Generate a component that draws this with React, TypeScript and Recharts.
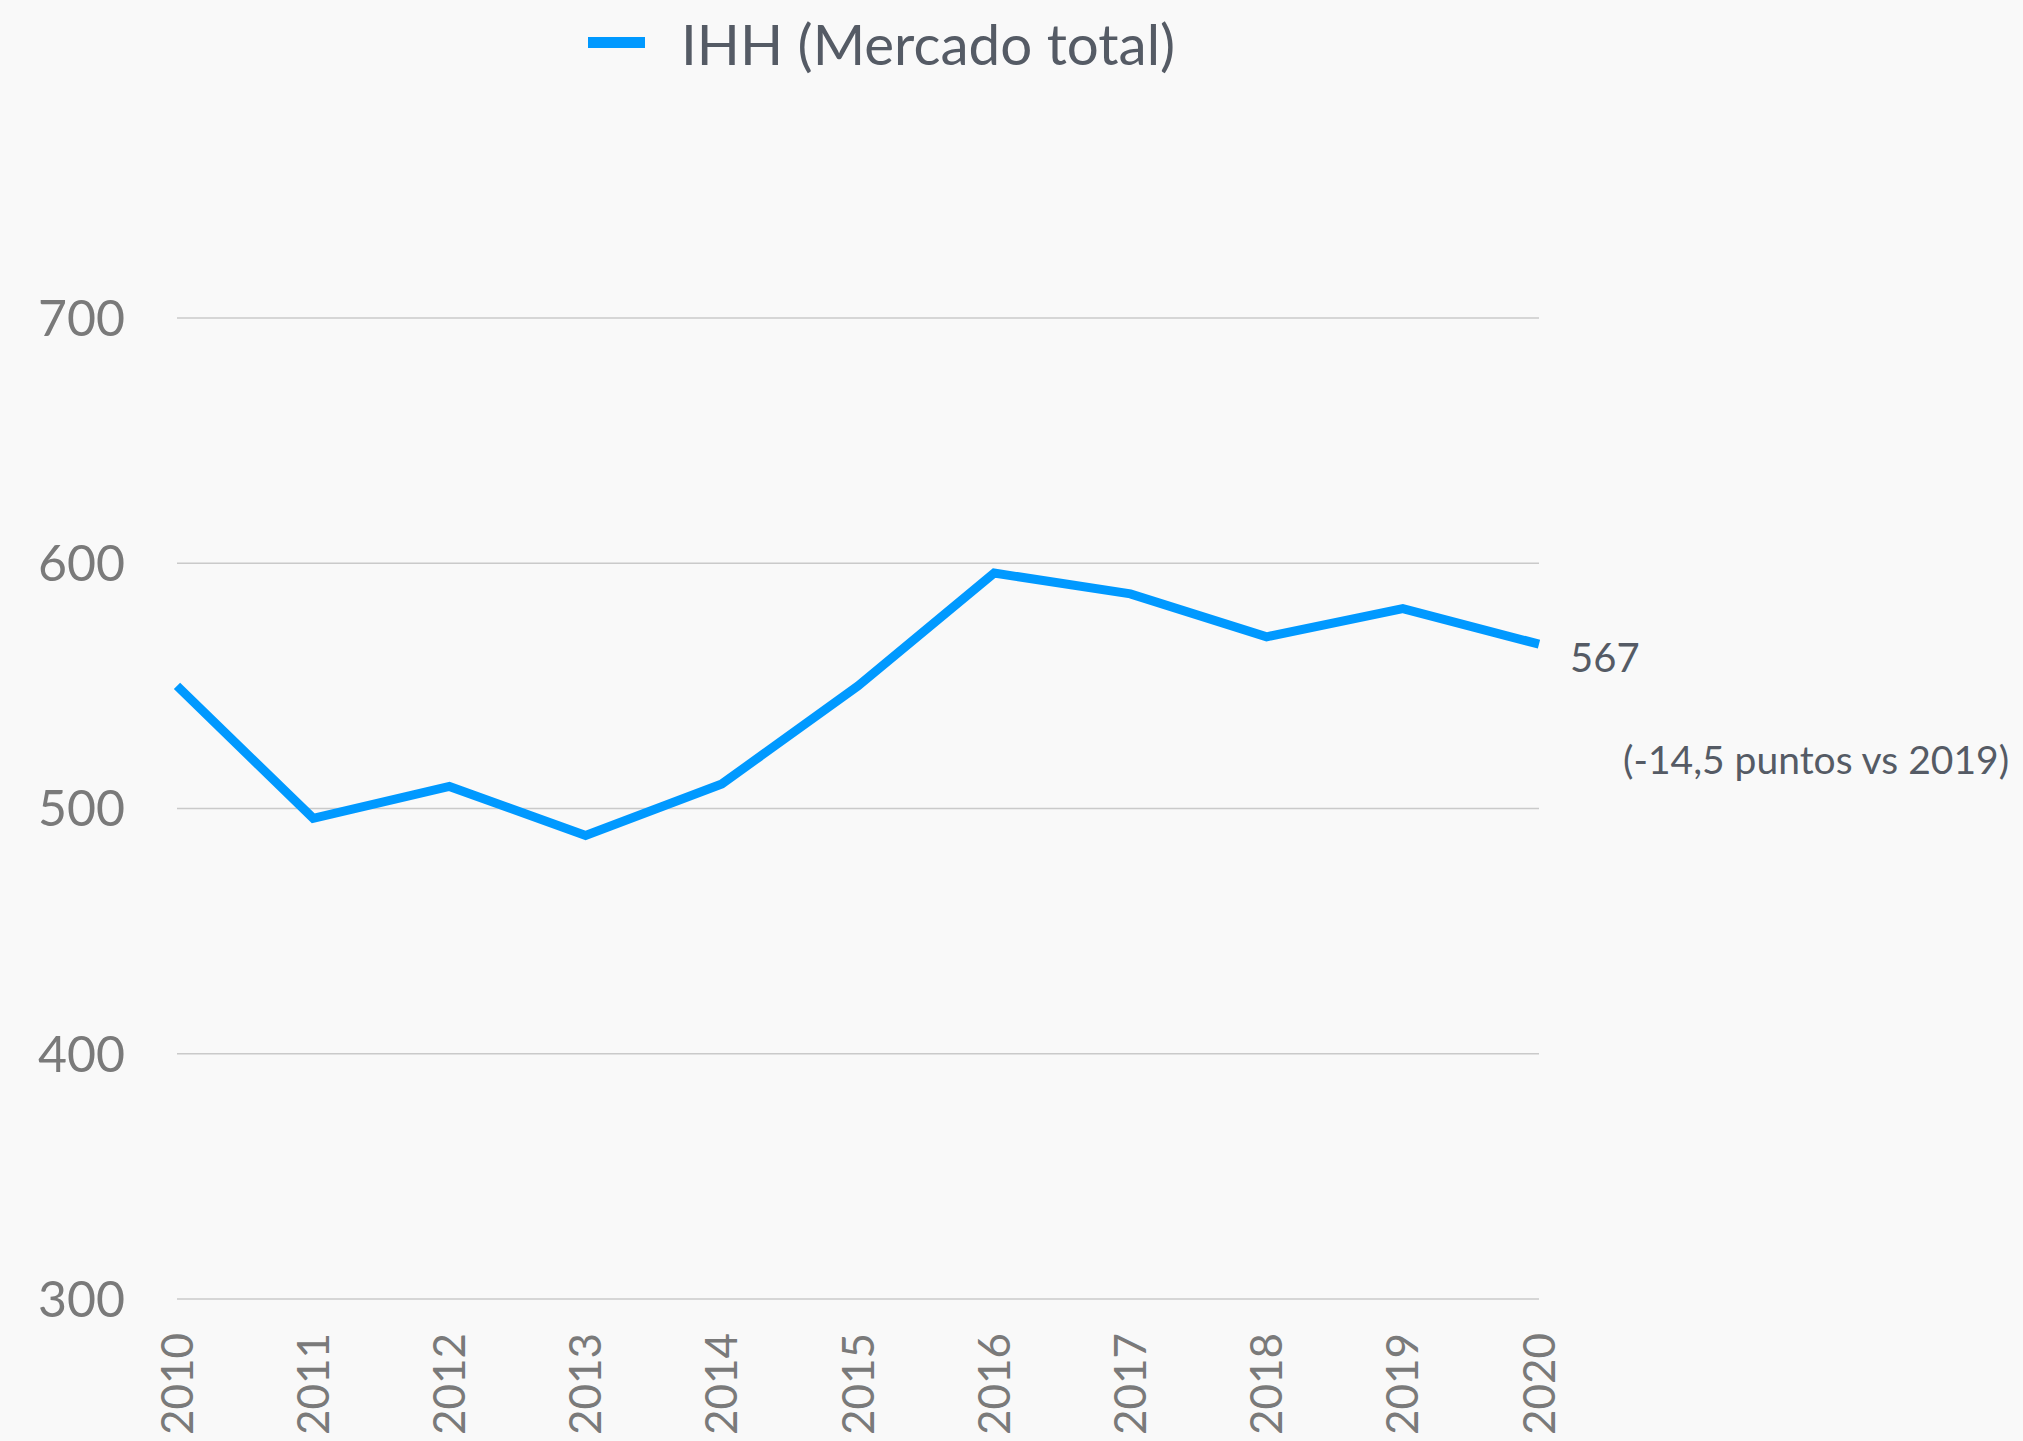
import React from "react";
import { LineChart, Line, XAxis, YAxis, CartesianGrid, Legend, LabelList } from "recharts";

const years = ["2010", "2011", "2012", "2013", "2014", "2015", "2016", "2017", "2018", "2019", "2020"];
const ihh = [550, 496, 509, 489, 510, 550, 596, 587.5, 570, 581.5, 567];
const yTicks = [300, 400, 500, 600, 700];
const seriesName = "IHH (Mercado total)";
const lastNote = "(-14,5 puntos vs 2019)";

const data = years.map((year, i) => ({ year, ihh: ihh[i] }));

const FONT = "Lato, 'Noto Sans', sans-serif";
const BLUE = "#0099ff";
const DARK = "#555b65";
const GREY = "#7a7a7a";
const LEGEND_H = 86;

function XTick({ x, y, payload }: any) {
  return (
    <text
      x={x}
      y={y}
      transform={`rotate(-90, ${x}, ${y})`}
      dx={-26}
      dy="0.355em"
      textAnchor="end"
      fill={GREY}
      fontSize={44}
      fontFamily={FONT}
    >
      {payload.value}
    </text>
  );
}

function LastLabel({ x, y, index, value }: any) {
  if (index !== years.length - 1) return null;
  return (
    <g fontFamily={FONT} fill={DARK}>
      <text x={x + 31} y={y + 28} fontSize={40}>
        {value}
      </text>
      <text x={x + 84} y={y + 130} fontSize={39}>
        {lastNote}
      </text>
    </g>
  );
}

function LegendContent() {
  return (
    <div style={{ display: "flex", alignItems: "center", height: LEGEND_H, fontFamily: FONT }}>
      <svg width={57} height={12}>
        <rect x={0} y={0} width={57} height={11} fill={BLUE} />
      </svg>
      <span style={{ marginLeft: 36, fontSize: 56.5, color: DARK, lineHeight: `${LEGEND_H}px` }}>{seriesName}</span>
    </div>
  );
}

export default function App() {
  return (
    <div style={{ position: "absolute", left: 0, top: 0, width: 2023, height: 1441, background: "#f9f9f9" }}>
      <LineChart
        width={2023}
        height={1441}
        data={data}
        margin={{ top: 318 - LEGEND_H, right: 484, bottom: 0, left: 0 }}
      >
        <CartesianGrid vertical={false} stroke="#cacaca" strokeWidth={1.5} />
        <XAxis
          dataKey="year"
          axisLine={false}
          tickLine={false}
          height={142}
          interval={0}
          tick={<XTick />}
        />
        <YAxis
          domain={[300, 700]}
          ticks={yTicks}
          axisLine={false}
          tickLine={false}
          tickSize={0}
          tickMargin={52}
          width={177}
          tick={{ fill: GREY, fontSize: 50, fontFamily: FONT }}
        />
        <Legend
          layout="horizontal"
          align="center"
          verticalAlign="top"
          content={<LegendContent />}
          wrapperStyle={{ top: 0, left: 588, width: "auto", height: LEGEND_H }}
        />
        <Line
          type="linear"
          dataKey="ihh"
          name={seriesName}
          stroke={BLUE}
          strokeWidth={9}
          dot={false}
          activeDot={false}
          isAnimationActive={false}
        >
          <LabelList dataKey="ihh" content={<LastLabel />} />
        </Line>
      </LineChart>
    </div>
  );
}
